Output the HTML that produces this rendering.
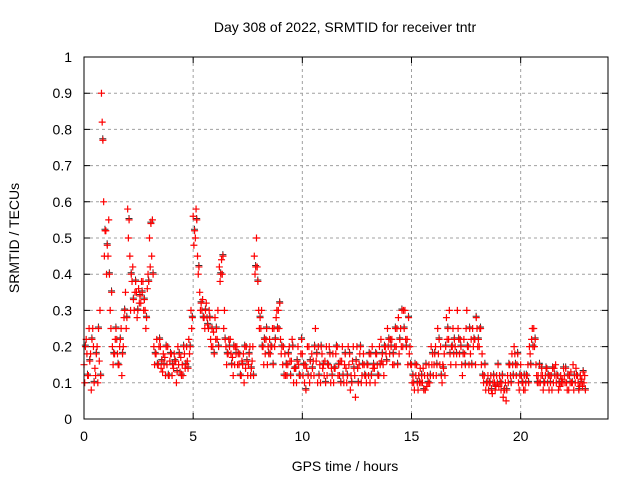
<!DOCTYPE html>
<html><head><meta charset="utf-8"><style>
body{margin:0;background:#fff;}
svg{display:block;font-family:"Liberation Sans",sans-serif;}
</style></head><body>
<svg id="chart" width="640" height="480">
<text x="345" y="32" font-size="14" text-anchor="middle">Day 308 of 2022, SRMTID for receiver tntr</text>
<text x="345" y="471" font-size="14" text-anchor="middle">GPS time / hours</text>
<text transform="translate(19,238) rotate(-90)" font-size="14" text-anchor="middle">SRMTID / TECUs</text>
<g id="grid"></g><g id="axes"></g><g id="marks"></g>
<rect x="84" y="57" width="524" height="362" fill="none" stroke="#000" stroke-width="1"/>
</svg>
<script>
const xTicks=[0,5,10,15,20];
const yTicks=[0,0.1,0.2,0.3,0.4,0.5,0.6,0.7,0.8,0.9,1];
const yTickLabels=["0","0.1","0.2","0.3","0.4","0.5","0.6","0.7","0.8","0.9","1"];
const timeStep=0.1;
const seriesA=[
.15,.22,.12,.18,.25,.14,.2,.16,.9,.6,
.52,.45,.3,.2,.18,.22,.15,.25,.2,.35,
.58,.45,.38,.3,.35,.36,.32,.38,.3,.36,
.5,.45,.2,.18,.15,.2,.13,.17,.15,.12,
.18,.14,.16,.2,.13,.15,.18,.2,.22,.3,
.56,.5,.45,.35,.3,.28,.32,.25,.22,.2,
.28,.22,.42,.44,.25,.2,.18,.22,.17,.15,
.2,.15,.12,.18,.14,.12,.2,.16,.45,.5,
.3,.25,.2,.18,.15,.22,.2,.25,.28,.3,
.22,.15,.18,.12,.2,.16,.1,.14,.2,.12,
.18,.1,.14,.2,.12,.16,.25,.1,.15,.18,
.12,.2,.15,.1,.18,.14,.2,.12,.16,.1,
.14,.2,.08,.16,.12,.2,.15,.1,.18,.12,
.15,.1,.2,.14,.18,.12,.22,.15,.2,.25,
.18,.22,.15,.2,.28,.25,.2,.3,.22,.18,
.15,.1,.12,.08,.14,.1,.12,.09,.15,.2,
.12,.2,.25,.15,.1,.18,.28,.22,.15,.25,
.2,.3,.18,.15,.22,.25,.2,.18,.25,.22,
.25,.2,.15,.1,.08,.12,.1,.07,.1,.12,
.09,.08,.06,.1,.12,.15,.18,.2,.12,.1,
.15,.1,.08,.12,.2,.22,.25,.15,.12,.1,
.12,.1,.14,.08,.12,.1,.15,.12,.09,.11,
.12,.1,.08,.13,.15,.1,.12,.09,.11,.1];
const seriesB=[
.1,.18,.25,.08,.2,.12,.1,.3,.82,.45,
.4,.55,.25,.15,.22,.18,.2,.12,.28,.25,
.5,.3,.42,.35,.28,.32,.38,.3,.25,.4,
.42,.55,.15,.22,.2,.14,.18,.12,.2,.16,
.12,.18,.1,.15,.17,.12,.14,.16,.18,.25,
.48,.58,.4,.3,.33,.25,.28,.3,.2,.24,
.22,.3,.38,.4,.3,.15,.22,.18,.12,.2,
.15,.18,.16,.1,.2,.15,.12,.2,.4,.42,
.25,.3,.15,.22,.2,.18,.25,.2,.3,.25,
.18,.2,.12,.15,.16,.22,.14,.1,.15,.18,
.12,.15,.2,.1,.18,.12,.16,.2,.1,.14,
.16,.12,.2,.14,.1,.18,.12,.16,.2,.15,
.1,.15,.12,.2,.06,.14,.18,.12,.15,.1,
.12,.18,.14,.1,.15,.2,.16,.12,.18,.2,
.22,.15,.2,.25,.18,.2,.3,.22,.15,.2,
.1,.08,.15,.12,.1,.14,.08,.12,.1,.15,
.15,.12,.18,.2,.15,.12,.22,.3,.2,.18,
.15,.25,.22,.12,.18,.3,.15,.22,.2,.15,
.2,.25,.18,.12,.1,.08,.12,.1,.08,.1,
.12,.1,.08,.05,.1,.12,.15,.18,.15,.08,
.12,.08,.1,.15,.18,.25,.2,.12,.1,.12,
.08,.12,.1,.12,.08,.14,.1,.08,.12,.1,
.1,.08,.12,.1,.08,.14,.1,.12,.09,.12];
const seriesC=[
.2,.12,.16,.22,.1,.18,.25,.12,.77,.52,
.48,.4,.35,.18,.25,.15,.22,.18,.3,.28,
.55,.4,.33,.38,.3,.34,.35,.33,.28,.38,
.54,.4,.18,.15,.22,.16,.15,.2,.12,.18,
.15,.16,.13,.18,.12,.2,.15,.14,.2,.28,
.52,.55,.42,.32,.28,.3,.26,.28,.25,.18,
.25,.2,.4,.45,.22,.18,.2,.15,.2,.18,
.18,.12,.15,.2,.16,.18,.14,.12,.42,.38,
.28,.2,.22,.25,.18,.2,.15,.22,.25,.32,
.2,.12,.15,.18,.12,.2,.14,.16,.12,.22,
.15,.08,.12,.16,.14,.2,.18,.12,.2,.15,
.1,.15,.18,.12,.14,.2,.15,.1,.12,.18,
.12,.18,.1,.14,.16,.1,.2,.15,.12,.15,
.18,.12,.15,.18,.12,.15,.18,.2,.16,.22,
.2,.18,.25,.15,.22,.3,.25,.2,.28,.15,
.12,.15,.1,.1,.12,.08,.15,.1,.12,.18,
.18,.15,.22,.12,.14,.2,.25,.18,.2,.22,
.18,.22,.2,.18,.15,.2,.25,.15,.22,.28,
.22,.25,.12,.15,.1,.1,.08,.12,.09,.15,
.1,.12,.08,.08,.15,.1,.12,.15,.18,.12,
.1,.12,.12,.1,.15,.2,.22,.1,.15,.14,
.1,.14,.12,.1,.14,.12,.12,.1,.1,.14,
.14,.12,.1,.1,.12,.12,.08,.1,.13,.08];
const NS="http://www.w3.org/2000/svg";
const L=84,R=608,T=57,B=419,XMAX=24;
function xs(v){return L+v/XMAX*(R-L);}
function ys(v){return B-v*(B-T);}
function mk(tag,attrs,parent){const e=document.createElementNS(NS,tag);for(const k in attrs)e.setAttribute(k,attrs[k]);parent.appendChild(e);return e;}
const grid=document.getElementById('grid'),axes=document.getElementById('axes'),marks=document.getElementById('marks');
xTicks.forEach(t=>{const x=xs(t);
 if(t>0){const g=mk('line',{x1:x,x2:x,y1:T,y2:B,stroke:'#a0a0a0','stroke-dasharray':'3,3'},grid);
 }
 const tk=mk('path',{d:`M${x},${B}v-6M${x},${T}v6`,stroke:'#000'},axes);
 
 const lb=mk('text',{x:x,y:B+22,'font-size':14,'text-anchor':'middle'},axes);lb.textContent=String(t);
 
});
yTicks.forEach((t,i)=>{const y=ys(t);
 if(t>0&&t<1){const g=mk('line',{x1:L,x2:R,y1:y,y2:y,stroke:'#a0a0a0','stroke-dasharray':'3,3'},grid);
 }
 const tk=mk('path',{d:`M${L},${y}h6M${R},${y}h-6`,stroke:'#000'},axes);
 
 const lb=mk('text',{x:L-12,y:y+5,'font-size':14,'text-anchor':'end'},axes);lb.textContent=yTickLabels[i];
 
});
function plot(series,offset,dv,color,name,sw){
 let d='';series.forEach((v,i)=>{const x=xs(i*timeStep+offset),y=ys(v+dv);d+=`M${x-3.5},${y}h7M${x},${y-3.5}v7`;});
 const p=mk('path',{d:d,stroke:color,'stroke-width':sw,fill:'none'},marks);
 
}
plot(seriesC,0.06,0.004,'#333','srmtid-series-black',1);
plot(seriesC,0.066,0,'#f00','srmtid-series-c',1.2);
plot(seriesB,0.033,0,'#f00','srmtid-series-b',1.2);
plot(seriesA,0,0,'#f00','srmtid-series-a',1.2);
</script>
</body></html>
